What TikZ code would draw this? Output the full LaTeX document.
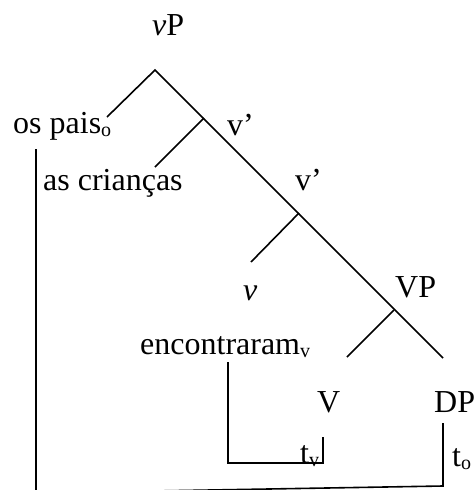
\documentclass[tikz,border=0pt]{standalone}
\usepackage{fontspec}
\setmainfont{Liberation Serif}
\newcommand{\sbs}[1]{\raisebox{-3pt}{\fontsize{20}{20}\selectfont #1}}
\begin{document}
\begin{tikzpicture}[x=1pt,y=-1pt,
  lbl/.style={anchor=base west, inner sep=0pt, font=\fontsize{32}{36}\selectfont},
  br/.style={line width=1.6pt}]
\useasboundingbox (0,0) rectangle (476,490);
\clip (0,0) rectangle (476,490);
% labels
\node[lbl] (vP) at (152,35) {\textit{v}P};
\node[lbl] (pais) at (13,133) {os pais\sbs{o}};
\node[lbl] (vbarA) at (227,135) {v’};
\node[lbl] (crian) at (43,190) {as crianças};
\node[lbl] (vbarB) at (295,190) {v’};
\node[lbl] (vsmall) at (243,300) {\textit{v}};
\node[lbl] (VP) at (395,297) {VP};
\node[lbl] (enc) at (140,354) {encontraram\sbs{v}};
\node[lbl] (V) at (317,412) {V};
\node[lbl] (DP) at (434,412) {DP};
\node[lbl] (tv) at (300,463) {t\sbs{v}};
\node[lbl] (to) at (452,466) {t\sbs{o}};
% tree coordinates
\coordinate (top) at (155,70);
\coordinate (pL) at (107,117);
\coordinate (jA) at (204,118);
\coordinate (cL) at (155,167);
\coordinate (jB) at (299,213);
\coordinate (vL) at (251,262);
\coordinate (jC) at (394,310);
\coordinate (VL) at (347,357);
\coordinate (DPe) at (443,358);
\draw[br] (pL) -- (top) -- (DPe);
\draw[br] (jA) -- (cL);
\draw[br] (jB) -- (vL);
\draw[br] (jC) -- (VL);
% movement lines
\coordinate (mAt) at (36,149);
\coordinate (mAb) at (36,493);
\coordinate (mBb) at (443,486);
\coordinate (mBt) at (443,423);
\draw[br] (mAt) -- (mAb) -- (mBb) -- (mBt);
\coordinate (eA) at (228,362);
\coordinate (eB) at (228,463);
\coordinate (eC) at (323,463);
\coordinate (eD) at (323,437);
\draw[br] (eA) -- (eB) -- (eC) -- (eD);
\end{tikzpicture}
\end{document}
